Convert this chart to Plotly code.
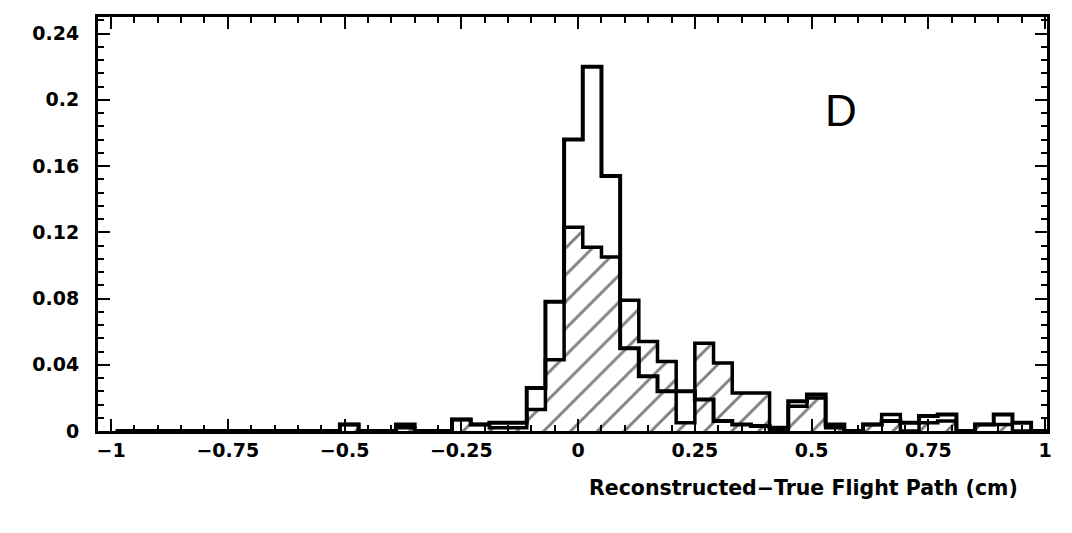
import plotly.graph_objects as go

# Histogram binning: 50 bins of width 0.04
bin_low = -0.99
bin_width = 0.04
n_bins = 50

# Open histogram (all candidates), fraction per bin
all_frac = [
    0, 0, 0, 0, 0, 0, 0, 0, 0, 0,
    0, 0, 0.004, 0, 0, 0.004, 0, 0, 0.007, 0.004,
    0.005, 0.005, 0.026, 0.078, 0.176, 0.220, 0.154, 0.050, 0.033, 0.024,
    0.024, 0.019, 0.006, 0.004, 0.003, 0.002, 0.018, 0.022, 0.004, 0,
    0.004, 0.006, 0.005, 0.009, 0.010, 0, 0.004, 0.010, 0.005, 0,
]

# Hatched histogram (selected subsample), fraction per bin
sel_frac = [
    0, 0, 0, 0, 0, 0, 0, 0, 0, 0,
    0, 0, 0.004, 0, 0, 0.002, 0, 0, 0.007, 0.004,
    0.002, 0.002, 0.013, 0.043, 0.123, 0.111, 0.105, 0.079, 0.054, 0.042,
    0.005, 0.053, 0.041, 0.023, 0.023, 0.001, 0.015, 0.020, 0.002, 0,
    0.004, 0.010, 0, 0.005, 0.006, 0, 0.004, 0.004, 0, 0,
]

x_tickvals = [-1, -0.75, -0.5, -0.25, 0, 0.25, 0.5, 0.75, 1]
x_ticktext = ["\u22121", "\u22120.75", "\u22120.5", "\u22120.25", "0", "0.25", "0.5", "0.75", "1"]
y_tickvals = [0, 0.04, 0.08, 0.12, 0.16, 0.2, 0.24]
y_ticktext = ["0", "0.04", "0.08", "0.12", "0.16", "0.2", "0.24"]

edges = [round(bin_low + bin_width * i, 4) for i in range(n_bins + 1)]
centers = [round(e + bin_width / 2, 4) for e in edges[:-1]]

INK = "#000000"

fig = go.Figure()

# hatched fill
fig.add_trace(go.Bar(
    x=centers, y=sel_frac, width=bin_width,
    marker=dict(color="white", line=dict(width=0),
                pattern=dict(shape="/", fgcolor=INK, bgcolor="white",
                             size=19, solidity=0.15)),
    showlegend=False, hoverinfo="skip",
))

# step outlines
fig.add_trace(go.Scatter(
    x=edges, y=sel_frac + [sel_frac[-1]], mode="lines",
    line=dict(color=INK, width=3.5, shape="hv"),
    showlegend=False, hoverinfo="skip",
))
fig.add_trace(go.Scatter(
    x=edges, y=all_frac + [all_frac[-1]], mode="lines",
    line=dict(color=INK, width=4, shape="hv"),
    showlegend=False, hoverinfo="skip",
))

tick_font = dict(family="DejaVu Sans", size=19, color=INK, weight="bold")

fig.update_layout(
    width=1072, height=533,
    margin=dict(l=98, r=25, t=17, b=102),
    paper_bgcolor="white", plot_bgcolor="white",
    bargap=0,
    xaxis=dict(
        range=[-1.028, 1.004],
        showline=True, linewidth=3, linecolor=INK, mirror="ticks",
        ticks="inside", ticklen=12, tickwidth=2, tickcolor=INK,
        tickvals=x_tickvals, ticktext=x_ticktext, tickfont=tick_font,
        minor=dict(tickmode="linear", tick0=0, dtick=0.05, ticks="inside",
                   ticklen=6, tickwidth=2, tickcolor=INK, showgrid=False),
        showgrid=False, zeroline=False,
    ),
    yaxis=dict(
        range=[0, 0.25],
        showline=True, linewidth=3, linecolor=INK, mirror="ticks",
        ticks="inside", ticklen=12, tickwidth=2, tickcolor=INK,
        tickvals=y_tickvals, ticktext=y_ticktext, tickfont=tick_font,
        ticklabelstandoff=12,
        minor=dict(tickmode="linear", tick0=0, dtick=0.008, ticks="inside",
                   ticklen=6, tickwidth=2, tickcolor=INK, showgrid=False),
        showgrid=False, zeroline=False,
    ),
    annotations=[
        dict(text="D", xref="paper", yref="paper", x=0.783, y=0.775,
             xanchor="center", yanchor="middle", showarrow=False,
             font=dict(family="Liberation Sans Narrow, Liberation Sans", size=44, color=INK)),
        dict(text="Reconstructed\u2212True Flight Path (cm)", xref="paper", yref="paper",
             x=0.972, y=-0.138, xanchor="right", yanchor="middle", showarrow=False,
             font=dict(family="DejaVu Sans", size=20.5, color=INK, weight="bold")),
    ],
)

fig.write_html("out.html")
